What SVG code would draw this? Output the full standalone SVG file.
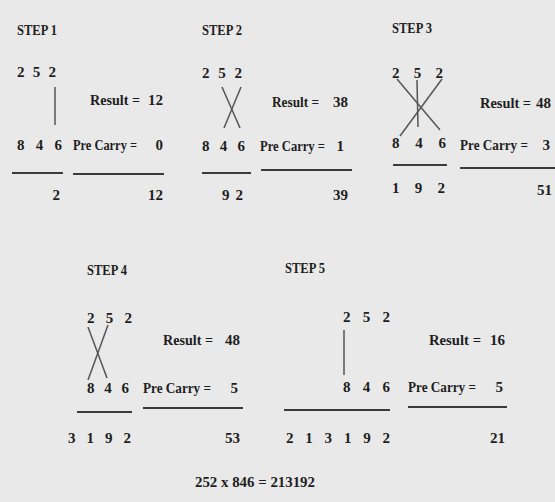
<svg xmlns="http://www.w3.org/2000/svg" width="555" height="502" viewBox="0 0 555 502">
<style>
text{font-family:"Liberation Serif","Times New Roman",serif;font-weight:bold;font-size:15px;fill:#1e1e1e}
.e{text-anchor:end}
.u{stroke:#3a3a3a;stroke-width:2}
.c{stroke:#555;stroke-width:1.5}
</style>
<rect width="555" height="502" fill="#e9e9e9"/>
<g id="step1">
<text x="17" y="35" textLength="40" lengthAdjust="spacingAndGlyphs">STEP 1</text>
<text x="17" y="77" textLength="39" lengthAdjust="spacing">2 5 2</text>
<line class="c" x1="55" y1="87" x2="55" y2="125"/>
<text x="90" y="105" textLength="50" lengthAdjust="spacingAndGlyphs">Result =</text>
<text class="e" x="163" y="105">12</text>
<text x="17" y="150" textLength="45" lengthAdjust="spacing">8 4 6</text>
<text x="73" y="150" textLength="64" lengthAdjust="spacingAndGlyphs">Pre Carry =</text>
<text class="e" x="163" y="150">0</text>
<line class="u" x1="12" y1="173" x2="63" y2="173"/>
<line class="u" x1="73" y1="174" x2="164" y2="174"/>
<text class="e" x="60" y="200">2</text>
<text class="e" x="163" y="200">12</text>
</g>
<g id="step2">
<text x="202" y="35" textLength="40" lengthAdjust="spacingAndGlyphs">STEP 2</text>
<text x="202" y="78" textLength="40" lengthAdjust="spacing">2 5 2</text>
<line class="c" x1="222" y1="87" x2="240" y2="128"/>
<line class="c" x1="241" y1="87" x2="224" y2="128"/>
<text x="272" y="107" textLength="47" lengthAdjust="spacingAndGlyphs">Result =</text>
<text class="e" x="348" y="107">38</text>
<text x="202" y="151" textLength="43" lengthAdjust="spacing">8 4 6</text>
<text x="260" y="151" textLength="65" lengthAdjust="spacingAndGlyphs">Pre Carry =</text>
<text class="e" x="344" y="151">1</text>
<line class="u" x1="202" y1="173" x2="251" y2="173"/>
<line class="u" x1="261" y1="170" x2="352" y2="170"/>
<text x="222" y="200" textLength="21" lengthAdjust="spacing">9 2</text>
<text class="e" x="348" y="200">39</text>
</g>
<g id="step3">
<text x="392" y="33" textLength="40" lengthAdjust="spacingAndGlyphs">STEP 3</text>
<text x="392" y="78" textLength="51" lengthAdjust="spacing">2 5 2</text>
<line class="c" x1="397" y1="79" x2="440" y2="130"/>
<line class="c" x1="442" y1="79" x2="400" y2="136"/>
<line class="c" x1="417" y1="80" x2="418" y2="127"/>
<text x="480" y="108" textLength="51" lengthAdjust="spacingAndGlyphs">Result =</text>
<text class="e" x="551" y="108">48</text>
<text x="392" y="148" textLength="54" lengthAdjust="spacing">8 4 6</text>
<text x="460" y="150" textLength="68" lengthAdjust="spacingAndGlyphs">Pre Carry =</text>
<text class="e" x="550" y="150">3</text>
<line class="u" x1="393" y1="165" x2="447" y2="165"/>
<line class="u" x1="460" y1="168" x2="555" y2="168"/>
<text x="392" y="193" textLength="53" lengthAdjust="spacing">1 9 2</text>
<text class="e" x="552" y="195">51</text>
</g>
<g id="step4">
<text x="87" y="275" textLength="40" lengthAdjust="spacingAndGlyphs">STEP 4</text>
<text x="87" y="323" textLength="45" lengthAdjust="spacing">2 5 2</text>
<line class="c" x1="88" y1="327" x2="107" y2="378"/>
<line class="c" x1="108" y1="325" x2="88" y2="380"/>
<text x="163" y="345" textLength="50" lengthAdjust="spacingAndGlyphs">Result =</text>
<text class="e" x="240" y="345">48</text>
<text x="87" y="393" textLength="42" lengthAdjust="spacing">8 4 6</text>
<text x="143" y="393" textLength="68" lengthAdjust="spacingAndGlyphs">Pre Carry =</text>
<text class="e" x="238" y="393">5</text>
<line class="u" x1="77" y1="412" x2="132" y2="412"/>
<line class="u" x1="143" y1="408" x2="243" y2="408"/>
<text x="68" y="443" textLength="63" lengthAdjust="spacing">3 1 9 2</text>
<text class="e" x="240" y="443">53</text>
</g>
<g id="step5">
<text x="285" y="273" textLength="40" lengthAdjust="spacingAndGlyphs">STEP 5</text>
<text x="343" y="322" textLength="47" lengthAdjust="spacing">2 5 2</text>
<line class="c" x1="344" y1="330" x2="344" y2="375"/>
<text x="429" y="345" textLength="52" lengthAdjust="spacingAndGlyphs">Result =</text>
<text class="e" x="505" y="345">16</text>
<text x="343" y="392" textLength="47" lengthAdjust="spacing">8 4 6</text>
<text x="408" y="392" textLength="68" lengthAdjust="spacingAndGlyphs">Pre Carry =</text>
<text class="e" x="503" y="392">5</text>
<line class="u" x1="284" y1="410" x2="390" y2="410"/>
<line class="u" x1="408" y1="407" x2="507" y2="407"/>
<text x="286" y="443" textLength="104" lengthAdjust="spacing">2 1 3 1 9 2</text>
<text class="e" x="505" y="443">21</text>
</g>
<g id="summary">
<text x="195" y="487" textLength="120" lengthAdjust="spacingAndGlyphs">252 x 846 = 213192</text>
</g>
</svg>
